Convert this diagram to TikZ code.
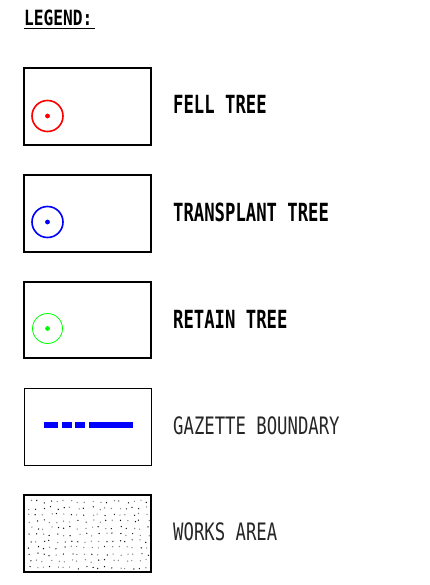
\documentclass[tikz,border=0pt]{standalone}
\usepackage{fontspec}
\newfontfamily\cadbold[FakeStretch=0.69]{DejaVu Sans Mono Bold}
\newfontfamily\cadtitle[FakeStretch=0.77]{DejaVu Sans Mono Bold}
\newfontfamily\cadreg[FakeStretch=0.72]{DejaVu Sans Mono}
\begin{document}
\begin{tikzpicture}[x=1pt,y=-1pt,
  legbox/.style={draw=black,line width=1.8pt},
  legboxthin/.style={draw=black,line width=1pt},
  boldlabel/.style={anchor=base west,inner sep=0pt,font=\cadbold\fontsize{25}{27}\selectfont},
  thinlabel/.style={anchor=base west,inner sep=0pt,text=black!85,font=\cadreg\fontsize{24}{26}\selectfont},
  treering/.style={line width=1.6pt},
]
\useasboundingbox (0,0) rectangle (430,585);
\fill[white] (0,0) rectangle (430,585);

% title
\node[anchor=base west,inner sep=0pt,font=\cadtitle\fontsize{21}{23}\selectfont] (title) at (24,26) {LEGEND:};
\draw[line width=1.8pt] (title.base west) ++(0,2.6) -- ++(71,0);

% fell tree
\draw[legbox] (24,68) rectangle (151,145);
\draw[treering,red] (47.5,116) circle (15.5);
\fill[red] (47.5,116) circle (2.4);
\node[boldlabel] (fell) at (173,114) {FELL TREE};

% transplant tree
\draw[legbox] (24,175) rectangle (151,252);
\draw[treering,blue] (47.5,222) circle (15.5);
\fill[blue] (47.5,222) circle (2.4);
\node[boldlabel] (transplant) at (173,221.5) {TRANSPLANT TREE};

% retain tree
\draw[legbox] (24,282) rectangle (151,358);
\draw[line width=0.8pt,green] (47.5,328.5) circle (15);
\fill[green] (47.5,328.5) circle (2.4);
\node[boldlabel] (retain) at (173,328.5) {RETAIN TREE};

% gazette boundary
\draw[legboxthin] (24,388) rectangle (151,465);
\begin{scope}[blue,line width=6pt]
  \draw (44,425) -- (58,425);
  \draw (62,425) -- (72,425);
  \draw (75,425) -- (85,425);
  \draw (88.5,425) -- (133,425);
\end{scope}
\node[thinlabel] (gazette) at (173,434) {GAZETTE BOUNDARY};

% works area
\draw[legbox,line width=1.4pt] (24,495) rectangle (151,572);
\pgfmathsetseed{7}
\foreach \r in {0,...,10}{
  \foreach \c in {0,...,17}{
    \pgfmathsetmacro\px{28+\c*6.9+rnd*4}
    \pgfmathsetmacro\py{500+\r*6.6+rnd*3}
    \pgfmathsetmacro\g{rnd<0.5 ? 50 : 95}
    \fill[black!\g] (\px,\py) circle (0.7);
  }
}
\node[thinlabel] (works) at (173,540) {WORKS AREA};
\end{tikzpicture}
\end{document}
